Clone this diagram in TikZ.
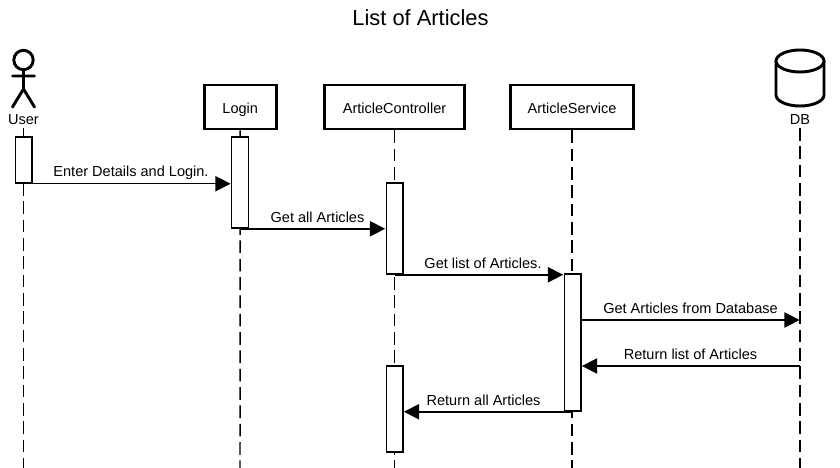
\documentclass[tikz,border=0pt]{standalone}
\usepackage{fontspec}
\setmainfont{Liberation Sans}
\usetikzlibrary{arrows.meta}
\tikzset{
  head/.style={draw,line width=2.2pt,fill=white,minimum height=33pt,inner sep=0pt,text height=9.5pt,text depth=0pt,font=\fontsize{10.9pt}{12pt}\selectfont},
  act/.style={draw,line width=1.1pt,fill=white,minimum width=12.4pt,inner sep=0pt},
  life/.style={line width=1.1pt,dash pattern=on 9.5pt off 4.25pt},
  msg/.style={line width=1.1pt,-{Triangle[length=11.5pt,width=11.5pt]},shorten >=0.3pt},
  lbl/.style={inner sep=0pt,anchor=base,font=\fontsize{10.9pt}{12pt}\selectfont},
  figure/.style={line width=2.2pt,line cap=round}
}
\begin{document}
\begin{tikzpicture}[x=0.75pt,y=-0.75pt]
\useasboundingbox (0,0) rectangle (840,468);
\fill[white] (0,0) rectangle (840,468);
\node[inner sep=0pt,anchor=base,font=\fontsize{16.4pt}{18pt}\selectfont] (title) at (420.5,25.5) {List of Articles};
\node[head,minimum width=54pt] (login) at (240.2,107) {Login};
\node[head,minimum width=105.5pt] (ctrl) at (394.5,107) {ArticleController};
\node[head,minimum width=92.5pt] (svc) at (572,107) {ArticleService};
\node[lbl] (user) at (23.5,124) {User};
\node[lbl] (db) at (800,124) {DB};
\coordinate (userStart) at (23.5,128);
\coordinate (dbStart) at (800,128);
\coordinate (userEnd) at (23.5,468);
\coordinate (loginEnd) at (240,468);
\coordinate (ctrlEnd) at (394.5,468);
\coordinate (svcEnd) at (572,468);
\coordinate (dbEnd) at (800,468);
\draw[life] (userStart) -- (userEnd);
\draw[life] (login.south) -- (loginEnd);
\draw[life] (ctrl.south) -- (ctrlEnd);
\draw[life] (svc.south) -- (svcEnd);
\draw[life] (dbStart) -- (dbEnd);
\draw[figure] (23.5,60) circle (9.7);
\draw[figure] (23.5,70) -- (23.5,89) (12.5,76) -- (34.5,76) (12.5,107) -- (23.5,89) -- (34.5,107);
\draw[figure,fill=white] (776,61) -- (776,95) arc[start angle=180,end angle=0,x radius=24,y radius=11] -- (824,61);
\draw[figure,fill=white] (800,61) ellipse[x radius=24,y radius=11];
\node[act,minimum height=34.5pt] (a1) at (23.5,160) {};
\node[act,minimum height=68.3pt] (a2) at (240,182.5) {};
\node[act,minimum height=68.3pt] (a3) at (394.5,228.5) {};
\node[act,minimum height=102.8pt] (a4) at (572.5,342.5) {};
\node[act,minimum height=64.5pt] (a5) at (394.5,409) {};
\coordinate (dbIn) at (800,320);
\coordinate (dbOut) at (800,366);
\draw[msg] (a1.south) -- (a1.south -| a2.west);
\node[lbl] (m1) at (131,176) {Enter Details and Login.};
\draw[msg] (a2.south) -- (a2.south -| a3.west);
\node[lbl] (m2) at (317.5,222) {Get all Articles};
\draw[msg] (a3.south) -- (a3.south -| a4.west);
\node[lbl] (m3) at (483,268) {Get list of Articles.};
\draw[msg] (a4.east |- dbIn) -- (dbIn);
\node[lbl] (m4) at (690.5,313.5) {Get Articles from Database};
\draw[msg] (dbOut) -- (a4.east |- dbOut);
\node[lbl] (m5) at (690.5,359.5) {Return list of Articles};
\draw[msg] (a4.south) -- (a4.south -| a5.east);
\node[lbl] (m6) at (483.5,405) {Return all Articles};
\end{tikzpicture}
\end{document}
